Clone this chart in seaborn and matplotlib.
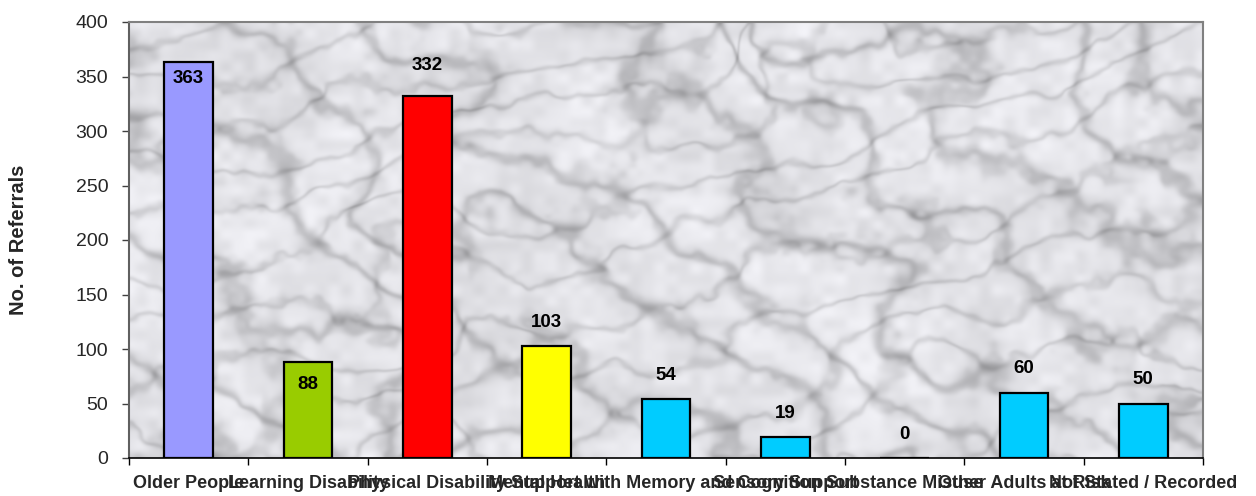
import numpy as np
import pandas as pd
import seaborn as sns
import matplotlib
matplotlib.use("Agg")
import matplotlib.pyplot as plt
from matplotlib.ticker import FixedLocator, MultipleLocator

# chart data
categories = ["Older People", "Learning Disability", "Physical Disability",
              "Mental Health", "Support with Memory and Cognition",
              "Sensory Support", "Substance Misuse", "Other Adults at Risk",
              "Not Stated / Recorded"]
referrals = [363, 88, 332, 103, 54, 19, 0, 60, 50]
bar_colors = ["#9999FF", "#99CC00", "#FF0000", "#FFFF00", "#00CCFF",
              "#00CCFF", "#00CCFF", "#00CCFF", "#00CCFF"]
# vertical offset of the value labels (points), negative = inside the bar
label_offset_pt = [-12, -16, 22, 17, 17, 17, 17, 17, 17]
y_ticks = [0, 50, 100, 150, 200, 250, 300, 350, 400]

sns.set_style("white")
plt.rcParams["font.family"] = ["Liberation Sans", "DejaVu Sans"]


def smooth_noise(rng, h, w, gh, gw):
    # value noise: random grid, smoothstep-interpolated to h x w
    g = rng.random((gh, gw))
    ys = np.linspace(0, gh - 1, h)
    xs = np.linspace(0, gw - 1, w)
    y0 = np.floor(ys).astype(int)
    x0 = np.floor(xs).astype(int)
    y1 = np.minimum(y0 + 1, gh - 1)
    x1 = np.minimum(x0 + 1, gw - 1)
    ty = ys - y0
    tx = xs - x0
    ty = (ty * ty * (3 - 2 * ty))[:, None]
    tx = (tx * tx * (3 - 2 * tx))[None, :]
    top = g[np.ix_(y0, x0)] * (1 - tx) + g[np.ix_(y0, x1)] * tx
    bot = g[np.ix_(y1, x0)] * (1 - tx) + g[np.ix_(y1, x1)] * tx
    return top * (1 - ty) + bot * ty


def marble_texture(h, w, seed=11):
    # soft grey marble background for the plot area (decoration only)
    rng = np.random.default_rng(seed)
    turb = np.zeros((h, w))
    amp = 1.0
    for k in range(5):
        turb += amp * smooth_noise(rng, h, w, 3 * 2 ** k + 2, 7 * 2 ** k + 2)
        amp *= 0.5
    yy, xx = np.mgrid[0:1:h * 1j, 0:1:w * 1j]
    ph1 = (xx * 2.5 - yy * 1.4) * 2 * np.pi * 1.4 + turb * 5
    ph2 = (xx * 1.2 + yy * 2.0) * 2 * np.pi * 2.0 + turb * 6
    vein1 = np.exp(-(np.sin(ph1) / 0.35) ** 2)
    vein2 = np.exp(-(np.sin(ph2) / 0.28) ** 2)
    cloud = smooth_noise(rng, h, w, 8, 20) * 0.5 + smooth_noise(rng, h, w, 40, 90) * 0.5
    val = 0.97 - 0.15 * vein1 - 0.10 * vein2 - 0.13 * cloud
    val = np.clip(val, 0, 1)
    rgb = np.dstack([val * 0.99, val * 0.99, np.clip(val * 1.01, 0, 1)])
    return rgb


fig = plt.figure(figsize=(12.56, 4.96), dpi=100)
ax = fig.add_axes([129 / 1256, 38 / 496, 1074 / 1256, 436 / 496])

ax.imshow(marble_texture(436, 1074), extent=(-0.5, len(categories) - 0.5, 0, 400),
          aspect="auto", zorder=0, interpolation="bilinear")

df = pd.DataFrame({"category": categories, "referrals": referrals})
sns.barplot(data=df, x="category", y="referrals", hue="category",
            palette=bar_colors, legend=False, width=0.41, ax=ax,
            edgecolor="black", linewidth=1.6, saturation=1, zorder=2)

for i, v in enumerate(referrals):
    ax.annotate(str(v), (i, v), xytext=(0, label_offset_pt[i]),
                textcoords="offset points", ha="center", va="center",
                fontsize=13.5, fontweight="bold", color="black", zorder=3)

ax.set_xlim(-0.5, len(categories) - 0.5)
ax.set_ylim(0, 400)
ax.yaxis.set_major_locator(FixedLocator(y_ticks))
ax.set_yticklabels([str(t) for t in y_ticks], fontsize=14)
ax.tick_params(axis="y", direction="out", length=5, width=1, color="#404040", pad=10, left=True)

ax.xaxis.set_minor_locator(MultipleLocator(1, offset=0.5))
ax.tick_params(axis="x", which="minor", direction="out", length=5, width=1, color="black", bottom=True)
ax.tick_params(axis="x", which="major", length=0, pad=12)
for lab in ax.get_xticklabels():
    lab.set_fontweight("bold")
    lab.set_fontsize(13)

ax.set_xlabel("")
ax.set_ylabel("No. of Referrals", fontsize=14.5, fontweight="bold")
ax.yaxis.set_label_coords(-0.094, 0.5)

for side in ["top", "right"]:
    ax.spines[side].set_visible(True)
    ax.spines[side].set_color("#808080")
    ax.spines[side].set_linewidth(1.5)
ax.spines["left"].set_color("#606060")
ax.spines["left"].set_linewidth(1.5)
ax.spines["bottom"].set_color("black")
ax.spines["bottom"].set_linewidth(1.2)

fig.savefig("out.png", dpi=100, facecolor="white")
